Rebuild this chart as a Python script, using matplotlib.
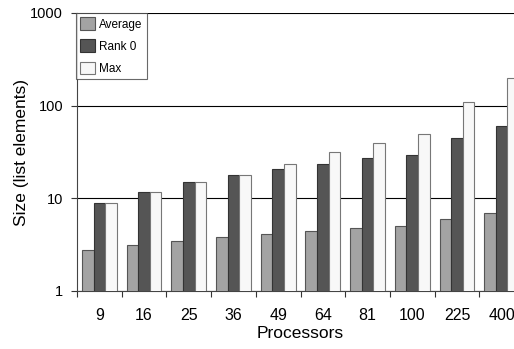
import matplotlib
matplotlib.use("Agg")
import matplotlib.pyplot as plt
import numpy as np

plt.rcParams['font.family'] = ['Liberation Sans', 'DejaVu Sans']

processors = ["9", "16", "25", "36", "49", "64", "81", "100", "225", "400"]
average = [2.75, 3.1, 3.45, 3.85, 4.15, 4.45, 4.75, 5.0, 5.95, 6.9]
rank0 = [8.8, 11.8, 14.9, 17.8, 20.8, 23.4, 27.0, 29.5, 44.5, 60.5]
maximum = [8.8, 11.8, 14.9, 17.8, 23.3, 31.3, 39.5, 50.0, 110.0, 200.0]

fig = plt.figure(figsize=(5.14, 3.49), dpi=100)
ax = fig.add_axes([77/514, 1 - 291/349, 447/514, (291 - 13)/349])

n = len(processors)
x = np.arange(n) + 0.5
w = 0.26
ax.bar(x - w, average, w, color='#a3a3a3', edgecolor='#555555', linewidth=0.8, label='Average', zorder=3)
ax.bar(x, rank0, w, color='#555555', edgecolor='#333333', linewidth=0.8, label='Rank 0', zorder=3)
ax.bar(x + w, maximum, w, color='#f8f8f8', edgecolor='#777777', linewidth=0.8, label='Max', zorder=3)

ax.set_yscale('log')
ax.set_ylim(1, 1000)
ax.set_xlim(0, n)
ax.set_yticks([1, 10, 100, 1000])
ax.set_yticklabels(['1', '10', '100', '1000'])
ax.minorticks_off()
ax.yaxis.grid(True, color='black', linewidth=0.8, zorder=0)
ax.set_axisbelow(True)

ax.set_xticks(np.arange(n + 1))
ax.set_xticklabels([])
ax.set_xticks(x, minor=True)
ax.set_xticklabels(processors, minor=True)
ax.tick_params(axis='x', which='major', length=4, direction='out', color='#333333')
ax.tick_params(axis='x', which='minor', length=0, pad=12, labelsize=11.5)
ax.tick_params(axis='y', length=4, direction='out', labelsize=10.5, color='#333333', pad=6)

for s in ['top', 'right']:
    ax.spines[s].set_visible(False)
ax.spines['left'].set_color('#444444')
ax.spines['bottom'].set_color('#444444')

ax.set_xlabel('Processors', fontsize=12.5)
ax.set_ylabel('Size (list elements)', fontsize=12.5)
ax.xaxis.set_label_coords((300 - 77) / 447, (291 - 333) / 278)
ax.yaxis.set_label_coords((22 - 77) / 447, 0.5)
ax.xaxis.label.set_va('center')
ax.yaxis.label.set_va('center')

leg = ax.legend(loc='upper left', bbox_to_anchor=(-0.003, 1.0), fontsize=8.5, frameon=True,
                fancybox=False, edgecolor='#444444', borderpad=0.35, handlelength=1.3,
                handleheight=1.3, handletextpad=0.35, labelspacing=0.75, borderaxespad=0)
leg.get_frame().set_linewidth(0.8)

fig.savefig('out.png', dpi=100)
